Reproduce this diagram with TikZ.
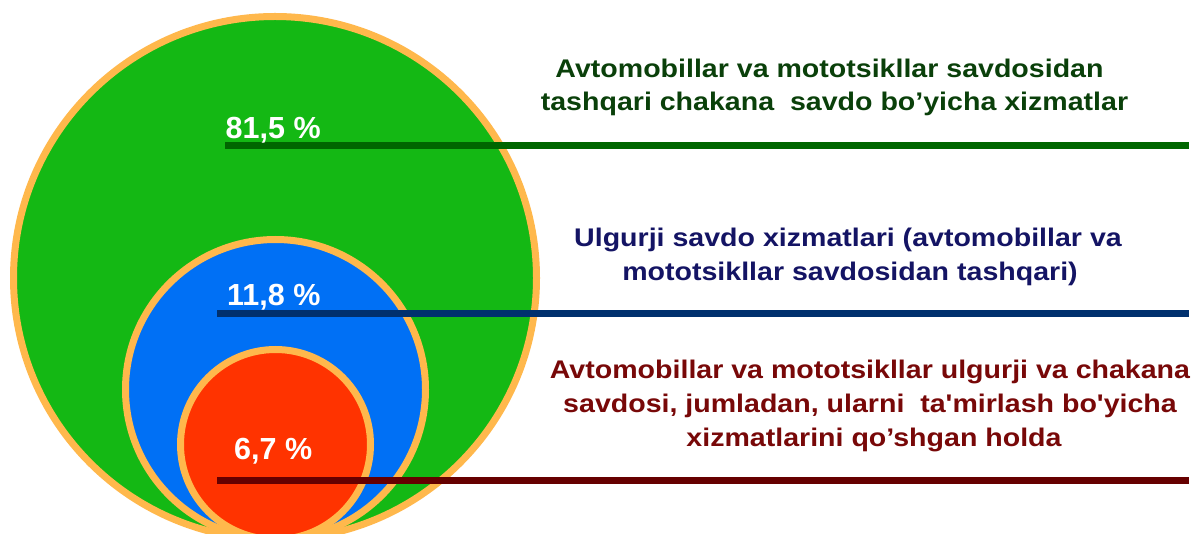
\documentclass[tikz,border=0pt]{standalone}
\usepackage{fontspec}
\setmainfont{Liberation Sans}
\newfontfamily\lblfont{Liberation Sans}[FakeStretch=1.12]
\newfontfamily\pctfont{Liberation Sans}
\definecolor{ring}{HTML}{FFB84C}
\definecolor{cgreen}{HTML}{14B814}
\definecolor{cblue}{HTML}{0070F5}
\definecolor{cred}{HTML}{FF3300}
\definecolor{lgreen}{HTML}{006600}
\definecolor{lblue}{HTML}{00306E}
\definecolor{lred}{HTML}{660000}
\definecolor{tgreen}{HTML}{0A400A}
\definecolor{tblue}{HTML}{141464}
\definecolor{tred}{HTML}{780808}
\tikzset{
  disc/.style={draw=ring, line width=7pt},
  leader/.style={line width=7pt, line cap=butt},
  pct/.style={text=white, inner sep=0pt, anchor=base west, font=\pctfont\bfseries\fontsize{30.5}{36}\selectfont},
  desc/.style={inner sep=0pt, anchor=base, font=\lblfont\bfseries\fontsize{25.5}{33}\selectfont},
}
\begin{document}
\begin{tikzpicture}[x=1pt,y=-1pt]
\useasboundingbox (0,0) rectangle (1203,534);
\fill[white] (0,0) rectangle (1203,534);
\begin{scope}
\clip (0,0) rectangle (1203,534);
\filldraw[disc, fill=cgreen] (275,278) circle[radius=261.5];
\filldraw[disc, fill=cblue] (275.5,389.5) circle[radius=150];
\filldraw[disc, fill=cred] (275.5,444.5) circle[radius=95];
\end{scope}
% leader lines
\coordinate (g0) at (225,146);   \coordinate (g9) at (1189,146);
\coordinate (b0) at (217,313.5); \coordinate (b9) at (1189,313.5);
\coordinate (r0) at (217,480.5); \coordinate (r9) at (1189,480.5);
\draw[leader, lgreen] (g0) -- (g9);
\draw[leader, lblue] (b0) -- (b9);
\draw[leader, lred] (r0) -- (r9);
% percentages
\node[pct] (p1) at (225.5,138.3) {81,5 \%};
\node[pct] (p2) at (227,306) {11,8 \%};
\node[pct] (p3) at (234,460) {6,7 \%};
% descriptions
\node[desc, text=tgreen] (g1) at (829.5,78) {Avtomobillar va mototsikllar savdosidan};
\node[desc, text=tgreen] (g2) at (834.5,111) {tashqari chakana\ \ savdo bo’yicha xizmatlar};
\node[desc, text=tblue] (b1) at (848,247) {Ulgurji savdo xizmatlari (avtomobillar va};
\node[desc, text=tblue] (b2) at (850,281) {mototsikllar savdosidan tashqari)};
\node[desc, text=tred] (r1) at (870,379) {Avtomobillar va mototsikllar ulgurji va chakana};
\node[desc, text=tred] (r2) at (870,413) {savdosi, jumladan, ularni\ \ ta'mirlash bo'yicha};
\node[desc, text=tred] (r3) at (874,447) {xizmatlarini qo’shgan holda};
\end{tikzpicture}
\end{document}
